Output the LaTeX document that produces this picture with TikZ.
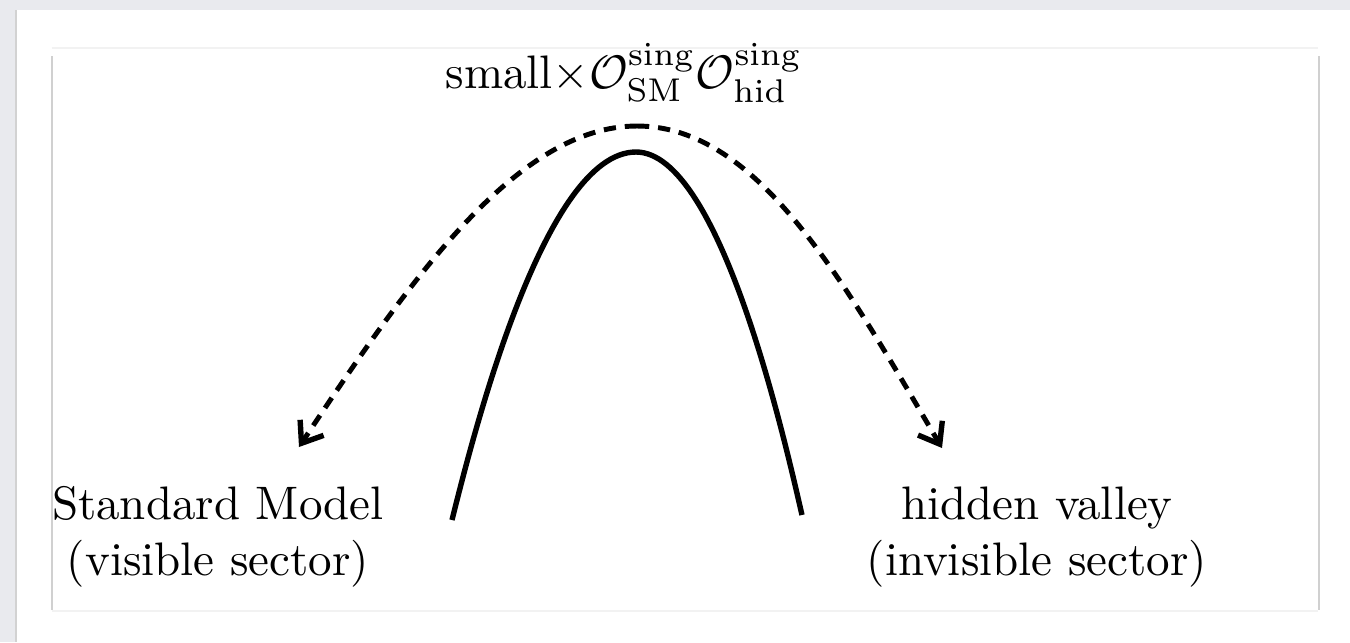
\documentclass[tikz,border=0pt]{standalone}
\usetikzlibrary{arrows.meta}
\definecolor{bggray}{RGB}{233,234,238}
\definecolor{panelside}{RGB}{208,208,208}
\definecolor{paneltop}{RGB}{242,242,242}
\tikzset{
  curveline/.style={line width=1.15pt, black},
  dasharrow/.style={line width=1.05pt, black, dash pattern=on 2.6pt off 1.9pt,
    -{Straight Barb[length=4pt,width=6pt,line width=1.15pt]}},
  label/.style={align=center, inner sep=0pt, font=\normalsize},
}
\begin{document}
\begin{tikzpicture}[x=0.2128pt, y=-0.2128pt]
  \useasboundingbox (0,0) rectangle (1350,642);
  % backgrounds
  \fill[bggray] (0,0) rectangle (1350,642);
  \fill[white] (17,10) rectangle (1350,642);
  \draw[gray!35, line width=0.5pt] (16,10) -- (16,642);
  % inner panel
  \draw[paneltop, line width=0.4pt] (52,48) -- (1318,48);
  \draw[paneltop, line width=0.4pt] (52,611) -- (1318,611);
  \draw[panelside, line width=0.45pt] (52,56) -- (52,610);
  \draw[panelside, line width=0.45pt] (1319,56) -- (1319,610);

  % texts
  \node[anchor=base, inner sep=0pt] (top) at (624,88)
    {small${\times}\mathcal{O}^{\mathrm{sing}}_{\mathrm{SM}}\mathcal{O}^{\mathrm{sing}}_{\mathrm{hid}}$};
  \node[label] (sm) at (218,537) {Standard Model\\(visible sector)};
  \node[label] (hv) at (1037,537) {hidden valley\\(invisible sector)};

  % coordinates
  \coordinate (pl) at (452,520);
  \coordinate (pt) at (636,152);
  \coordinate (pr) at (802,515);
  \coordinate (apex) at (637,126);
  \coordinate (ltip) at (299,447);
  \coordinate (rtip) at (942,448);

  % solid barrier
  \draw[curveline] (pl) parabola bend (pt) (pr);

  % dashed arrows
  \draw[dasharrow] (apex) .. controls (517,126) and (409,281) .. (ltip);
  \draw[dasharrow] (apex) .. controls (757,126) and (842,278) .. (rtip);
\end{tikzpicture}
\end{document}
